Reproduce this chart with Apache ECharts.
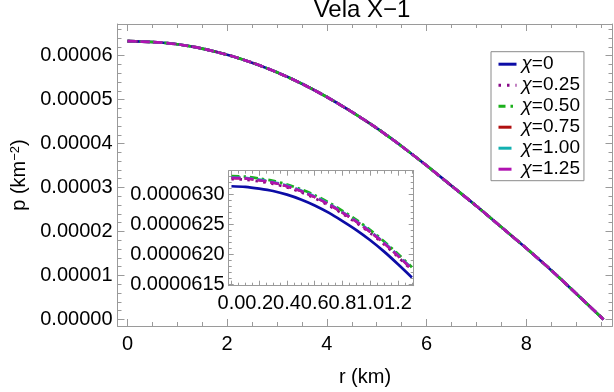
<!DOCTYPE html>
<html>
<head>
<meta charset="utf-8">
<script src="https://cdn.jsdelivr.net/npm/echarts@6/dist/echarts.min.js"></script>
<style>html,body{margin:0;padding:0;background:#fff}#c{width:614px;height:392px}</style>
</head>
<body>
<div id="c"></div>
<script>
// ---------- data ----------
const seriesNames = ['χ=0', 'χ=0.25', 'χ=0.50', 'χ=0.75', 'χ=1.00', 'χ=1.25'];

// main panel: r (km) and p (km^-2); all six curves coincide at this scale
const rMain = [0, 0.5, 1.0, 1.5, 2.0, 2.5, 3.0, 3.5, 4.0, 4.5, 5.0, 5.5, 6.0, 6.5, 7.0, 7.5, 8.0, 8.5, 9.0, 9.55];
const pMain = [6.33e-5, 6.31e-5, 6.26e-5, 6.16e-5, 6.02e-5, 5.84e-5, 5.62e-5, 5.36e-5, 5.06e-5, 4.72e-5,
               4.35e-5, 3.94e-5, 3.50e-5, 3.04e-5, 2.58e-5, 2.10e-5, 1.62e-5, 1.12e-5, 0.59e-5, 0];

// inset: centre region
const rInset = [0, 0.1, 0.2, 0.3, 0.4, 0.5, 0.6, 0.7, 0.8, 0.9, 1.0, 1.1, 1.2, 1.3];
const pInsetChi000 = [6.313e-5, 6.312e-5, 6.309e-5, 6.305e-5, 6.299e-5, 6.291e-5, 6.281e-5, 6.269e-5, 6.255e-5, 6.240e-5, 6.223e-5, 6.204e-5, 6.183e-5, 6.161e-5];
const pInsetChi025 = [6.325e-5, 6.324e-5, 6.321e-5, 6.317e-5, 6.311e-5, 6.303e-5, 6.293e-5, 6.281e-5, 6.267e-5, 6.252e-5, 6.235e-5, 6.216e-5, 6.195e-5, 6.173e-5];
const pInsetChi050 = [6.330e-5, 6.329e-5, 6.326e-5, 6.322e-5, 6.316e-5, 6.308e-5, 6.298e-5, 6.286e-5, 6.272e-5, 6.257e-5, 6.240e-5, 6.221e-5, 6.200e-5, 6.178e-5];
const pInsetChi075 = [6.327e-5, 6.326e-5, 6.323e-5, 6.319e-5, 6.313e-5, 6.305e-5, 6.295e-5, 6.283e-5, 6.269e-5, 6.254e-5, 6.237e-5, 6.218e-5, 6.197e-5, 6.175e-5];
const pInsetChi100 = [6.328e-5, 6.327e-5, 6.324e-5, 6.320e-5, 6.314e-5, 6.306e-5, 6.296e-5, 6.284e-5, 6.270e-5, 6.255e-5, 6.238e-5, 6.219e-5, 6.198e-5, 6.176e-5];
const pInsetChi125 = [6.327e-5, 6.326e-5, 6.323e-5, 6.319e-5, 6.313e-5, 6.305e-5, 6.295e-5, 6.283e-5, 6.269e-5, 6.254e-5, 6.237e-5, 6.218e-5, 6.197e-5, 6.175e-5];
const pInsetAll = [pInsetChi000, pInsetChi025, pInsetChi050, pInsetChi075, pInsetChi100, pInsetChi125];

// tick labels
const mainXTicks = [0, 2, 4, 6, 8];
const mainYTicks = [0, 1e-5, 2e-5, 3e-5, 4e-5, 5e-5, 6e-5];
const insetXTicks = [0, 0.2, 0.4, 0.6, 0.8, 1.0, 1.2];
const insetYTicks = [6.15e-5, 6.20e-5, 6.25e-5, 6.30e-5];

// ---------- styles ----------
const FONT = 'Liberation Sans, Arial, sans-serif';
const FRAME = '#9a9a9a';
const styles = [
  { color: '#0c0ca6', type: 'solid', width: 2.7 },
  { color: '#880a88', type: [2.5, 5.5], width: 2.7 },
  { color: '#1cb01c', type: [8, 4, 2.5, 4], width: 2.7 },
  { color: '#b01010', type: [9, 4], width: 2.7 },
  { color: '#12b0b0', type: [9, 4], width: 2.7 },
  { color: '#b012b0', type: [9, 4], width: 2.7 }
];
const legendDash = ['solid', [2.5, 6], [7, 5, 2.5, 5], [13, 10], [13, 10], [13, 10]];

function range(a, b, step) {
  const out = [];
  for (let i = 0; a + i * step <= b + 1e-12; i++) out.push(Math.round((a + i * step) * 1e12) / 1e12);
  return out;
}

// each side of a frame: label axis (with frame line), major tick axis, minor tick axis
function axes(dim, grid, min, max, major, minor, fmt, labelMargin, majLen, minLen) {
  const sides = dim === 'x' ? ['bottom', 'top'] : ['left', 'right'];
  const base = { type: 'value', gridIndex: grid, min: min, max: max, splitLine: { show: false } };
  const out = [];
  sides.forEach((pos, s) => {
    out.push(Object.assign({}, base, {
      position: pos,
      axisLine: { show: true, onZero: false, lineStyle: { color: FRAME, width: 1 } },
      axisTick: { show: false },
      axisLabel: s === 0 ? { show: true, customValues: major, interval: 0, formatter: fmt, margin: labelMargin,
                   color: '#000', fontSize: 20, fontFamily: FONT, hideOverlap: false } : { show: false }
    }));
    out.push(Object.assign({}, base, {
      position: pos, axisLine: { show: false, onZero: false },
      axisTick: { show: true, inside: true, length: majLen, customValues: major, lineStyle: { color: FRAME } },
      axisLabel: { show: false }
    }));
    out.push(Object.assign({}, base, {
      position: pos, axisLine: { show: false, onZero: false },
      axisTick: { show: true, inside: true, length: minLen, customValues: minor, lineStyle: { color: FRAME } },
      axisLabel: { show: false }
    }));
  });
  return out;
}

const xAxes = [].concat(
  axes('x', 0, -0.2, 9.73, mainXTicks, range(0, 9.5, 0.5), v => String(Math.round(v)), 8, 7, 4),
  axes('x', 1, -0.02, 1.313, insetXTicks, range(0, 1.3, 0.05), v => v.toFixed(1), 8, 5, 3)
);
const yAxes = [].concat(
  axes('y', 0, -0.15e-5, 6.72e-5, mainYTicks, range(0, 6.6e-5, 0.2e-5), v => v.toFixed(5), 5, 7, 4),
  axes('y', 1, 6.1472e-5, 6.3389e-5, insetYTicks, range(6.15e-5, 6.33e-5, 0.01e-5), v => v.toFixed(7), 4, 5, 3)
);
const INSET_AXIS = 6;

const series = [];
seriesNames.forEach((name, i) => {
  series.push({
    name: name, type: 'line', xAxisIndex: 0, yAxisIndex: 0, symbol: 'none', smooth: 0.3,
    data: rMain.map((r, k) => [r, pMain[k]]),
    lineStyle: styles[i], itemStyle: { color: styles[i].color }, z: 5 + i, animation: false
  });
});
seriesNames.forEach((name, i) => {
  series.push({
    name: name, type: 'line', xAxisIndex: INSET_AXIS, yAxisIndex: INSET_AXIS, symbol: 'none', smooth: 0.3,
    data: rInset.map((r, k) => [r, pInsetAll[i][k]]),
    lineStyle: styles[i], itemStyle: { color: styles[i].color }, z: 5 + i, animation: false
  });
});

const chart = echarts.init(document.getElementById('c'), null, { renderer: 'canvas' });
chart.setOption({
  animation: false,
  backgroundColor: '#fff',
  title: {
    text: 'Vela X−1', left: 362, top: -2, padding: 0, textAlign: 'center',
    textStyle: { fontSize: 24, fontWeight: 'normal', color: '#000', fontFamily: FONT }
  },
  grid: [
    { left: 117.5, top: 24, right: 1.5, bottom: 62, containLabel: false },
    { left: 228.7, top: 170.7, width: 185, height: 115, show: true, backgroundColor: '#fff', borderWidth: 0 }
  ],
  xAxis: xAxes.map((a, i) => Object.assign(a, i === 0 ? {
    name: 'r (km)', nameLocation: 'middle', nameGap: 41,
    nameTextStyle: { fontSize: 20, color: '#000', fontFamily: FONT }
  } : {})),
  yAxis: yAxes.map((a, i) => Object.assign(a, i === 0 ? {
    name: 'p (km{sup|−2})', nameLocation: 'middle', nameGap: 84, nameRotate: 90,
    nameTextStyle: { fontSize: 20, color: '#000', fontFamily: FONT,
      rich: { sup: { fontSize: 13, verticalAlign: 'top', fontFamily: FONT, color: '#000', padding: [0, 0, 8, 0] } } }
  } : {})),
  legend: {
    data: seriesNames.map((n, i) => ({ name: n, lineStyle: { type: legendDash[i], width: 3, color: styles[i].color } })),
    orient: 'vertical', left: 491, top: 51.7,
    padding: [2, 4, 1, 6], itemWidth: 18, itemHeight: 10, itemGap: 0, itemTextGap: 15,
    backgroundColor: '#fff', borderColor: '#8a8a8a', borderWidth: 1,
    itemStyle: { opacity: 0 },
    formatter: n => '{i|χ}' + n.slice(1),
    textStyle: { fontSize: 19, lineHeight: 21, color: '#000', fontFamily: FONT,
      rich: { i: { fontStyle: 'italic', fontSize: 19, fontFamily: FONT, color: '#000' } } }
  },
  series: series
});
</script>
</body>
</html>
